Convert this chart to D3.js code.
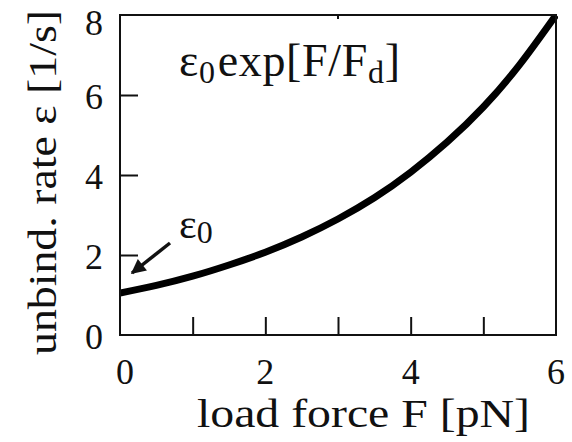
<!DOCTYPE html>
<html>
<head>
<meta charset="utf-8">
<script src="https://cdn.jsdelivr.net/npm/d3@7"></script>
<style>
  html, body { margin: 0; padding: 0; background: #fff; }
  svg { display: block; }
</style>
</head>
<body>
<svg id="chart" width="572" height="442"></svg>
<script>
// Data
const forceF = [0, 0.5, 1, 1.5, 2, 2.5, 3, 3.5, 4, 4.5, 5, 5.5, 6];
const rateE  = [1.05, 1.24, 1.47, 1.75, 2.07, 2.45, 2.9, 3.43, 4.07, 4.82, 5.7, 6.76, 8.0];
const xTicks = [0, 1, 2, 3, 4, 5, 6];
const xTickLabels = [0, 2, 4, 6];
const yTicks = [0, 2, 4, 6, 8];
const xTitle = "load force F [pN]";
const yTitle = "unbind. rate ε [1/s]";

const FONT = "Liberation Serif";
const svg = d3.select("#chart");
const m = { left: 120, right: 556, top: 15, bottom: 335 };

const x = d3.scaleLinear().domain([0, 6]).range([m.left, m.right]);
const y = d3.scaleLinear().domain([0, 8]).range([m.bottom, m.top]);

const data = forceF.map((f, i) => ({ f, e: rateE[i] }));

svg.append("clipPath").attr("id", "clip")
  .append("rect").attr("x", m.left).attr("y", m.top - 1)
  .attr("width", m.right - m.left + 2).attr("height", m.bottom - m.top + 1);

svg.append("path")
  .datum(data)
  .attr("clip-path", "url(#clip)")
  .attr("fill", "none")
  .attr("stroke", "#000")
  .attr("stroke-width", 7)
  .attr("d", d3.line().x(d => x(d.f)).y(d => y(d.e)).curve(d3.curveNatural));

// frame
svg.append("rect")
  .attr("x", m.left).attr("y", m.top)
  .attr("width", m.right - m.left).attr("height", m.bottom - m.top)
  .attr("fill", "none").attr("stroke", "#111").attr("stroke-width", 2);

// axes with inward ticks
const xAxis = d3.axisBottom(x).tickValues(xTicks).tickSize(-18).tickFormat("");
const gx = svg.append("g").attr("transform", `translate(0,${m.bottom})`).call(xAxis);
gx.select(".domain").remove();
gx.selectAll(".tick line").attr("stroke", "#111").attr("stroke-width", 2)
  .filter(d => d === 0 || d === 6).remove();

const yAxis = d3.axisLeft(y).tickValues(yTicks).tickSize(-18).tickFormat("");
const gy = svg.append("g").attr("transform", `translate(${m.left},0)`).call(yAxis);
gy.select(".domain").remove();
gy.selectAll(".tick line").attr("stroke", "#111").attr("stroke-width", 2)
  .filter(d => d === 0 || d === 8).remove();

svg.append("line").attr("x1", x(3)).attr("x2", x(3))
  .attr("y1", m.top).attr("y2", m.top + 4).attr("stroke", "#111").attr("stroke-width", 2);

function txt(sel) { return sel.attr("font-family", FONT).style("font-family", FONT).attr("fill", "#111"); }

// tick labels
svg.append("g").selectAll("text").data(yTicks).join("text")
  .call(txt)
  .attr("x", 103)
  .attr("y", d => Math.max(y(d) + 2, 23))
  .attr("dy", "0.34em")
  .attr("text-anchor", "end")
  .attr("font-size", 36)
  .text(d => d);

svg.append("g").selectAll("text").data(xTickLabels).join("text")
  .call(txt)
  .attr("x", d => x(d) + (d === 0 ? 5 : 0))
  .attr("y", 384)
  .attr("text-anchor", "middle")
  .attr("font-size", 36)
  .text(d => d);

// axis titles
svg.append("text").call(txt)
  .attr("x", 197).attr("y", 427)
  .attr("font-size", 40)
  .attr("textLength", 333).attr("lengthAdjust", "spacingAndGlyphs")
  .text(xTitle);

svg.append("text").call(txt)
  .attr("transform", "translate(56,355) rotate(-90)")
  .attr("font-size", 40)
  .attr("textLength", 345).attr("lengthAdjust", "spacingAndGlyphs")
  .text(yTitle);

// formula annotation
const ann = svg.append("text").call(txt).attr("x", 179).attr("y", 76).attr("font-size", 46)
  .attr("textLength", 221).attr("lengthAdjust", "spacing");
ann.append("tspan").text("ε");
ann.append("tspan").attr("font-size", 32).attr("dy", 7).text("0");
ann.append("tspan").attr("dy", -7).attr("dx", 2).text("exp[F/F");
ann.append("tspan").attr("font-size", 32).attr("dy", 7).text("d");
ann.append("tspan").attr("dy", -7).text("]");

// ε0 label and arrow
const lab = svg.append("text").call(txt).attr("x", 179).attr("y", 238).attr("font-size", 42);
lab.append("tspan").text("ε");
lab.append("tspan").attr("font-size", 32).attr("dy", 5).text("0");

svg.append("defs").append("marker")
  .attr("id", "arr").attr("viewBox", "0 0 10 10").attr("refX", 9).attr("refY", 5)
  .attr("markerWidth", 4.6).attr("markerHeight", 4.2).attr("orient", "auto")
  .append("path").attr("d", "M0,0 L10,5 L0,10 Z").attr("fill", "#111");

svg.append("line")
  .attr("x1", 170).attr("y1", 243).attr("x2", 132).attr("y2", 273)
  .attr("stroke", "#111").attr("stroke-width", 3.5).attr("marker-end", "url(#arr)");
</script>
</body>
</html>
